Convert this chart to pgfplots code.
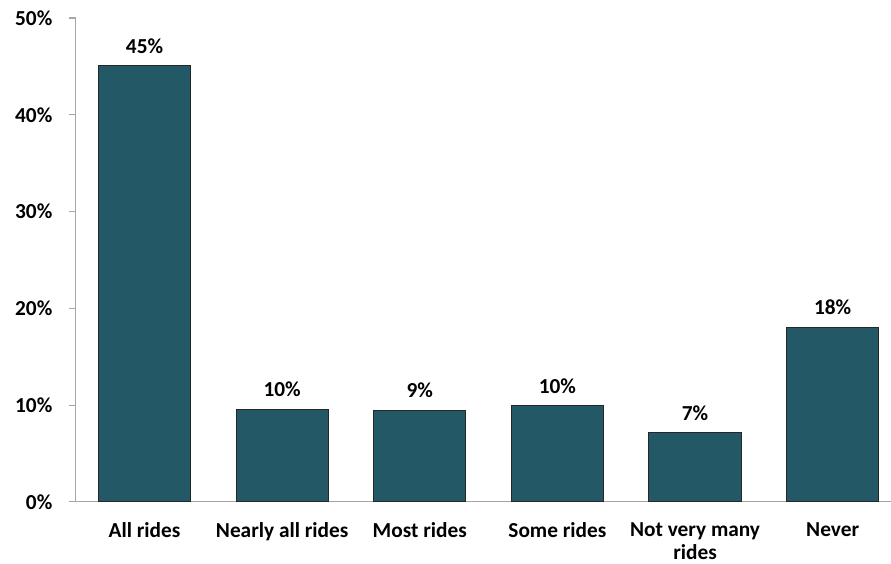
\documentclass[border=0pt]{standalone}
\usepackage{fontspec}
\setmainfont{Carlito}
\usepackage{pgfplots}
\usepackage{pgfplotstable}
\pgfplotsset{compat=1.18}
\definecolor{barcol}{RGB}{35,88,103}
\definecolor{axgray}{RGB}{166,166,166}
\pgfplotstableread{
x y lab
0 45.05 45\%
1 9.59 10\%
2 9.48 9\%
3 9.96 10\%
4 7.17 7\%
5 18.07 18\%
}\datatab
\begin{document}
\begin{tikzpicture}
\begin{axis}[
  scale only axis,
  width=611.5pt, height=363pt,
  xmin=-0.5, xmax=5.424,
  ymin=0, ymax=50,
  axis x line=bottom, axis y line=left,
  axis line style={draw=axgray, line width=0.8pt, -},
  x axis line style={-}, y axis line style={-},
  ytick={0,10,...,50},
  yticklabel={\pgfmathprintnumber{\tick}\%},
  xtick={0,...,5},
  xticklabels={All rides, Nearly all rides, Most rides, Some rides, {Not very many\\rides}, Never},
  x tick style={draw=none},
  y tick style={draw=axgray, line width=0.8pt},
  tick align=outside,
  major tick length=5.25pt,
  extra x ticks={-0.5,0.5,1.5,2.5,3.5,4.5},
  extra x tick labels={},
  extra x tick style={tick style={draw=axgray, line width=0.8pt}, major tick length=6pt},
  tick label style={font=\fontsize{16}{17.25}\selectfont\bfseries},
  /pgf/number format/assume math mode=true,
  xticklabel style={align=center, yshift=-7pt},
  yticklabel style={xshift=-8.75pt},
  nodes near coords,
  point meta=explicit symbolic,
  nodes near coords style={font=\fontsize{16}{17.25}\selectfont\bfseries, anchor=south, yshift=5.5pt},
  clip=false,
]
\addplot[ybar, bar width=0.67, fill=barcol, draw=black!85, line width=0.7pt]
  table[x=x, y=y, meta=lab] {\datatab};
\coordinate (ll) at (rel axis cs:0,0);
\coordinate (ur) at (rel axis cs:1,1);
\end{axis}
\pgfresetboundingbox
\path[use as bounding box] ([shift={(-56.8pt,-46.5pt)}]ll) rectangle ([shift={(0pt,13.5pt)}]ur);
\end{tikzpicture}
\end{document}
